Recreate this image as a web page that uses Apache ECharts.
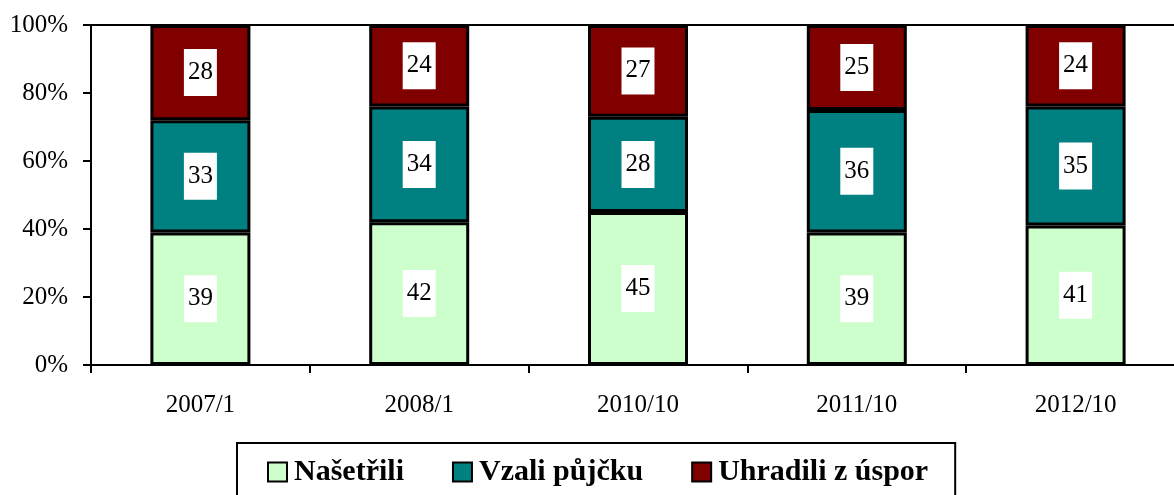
<!DOCTYPE html>
<html>
<head>
<meta charset="utf-8">
<script src="https://cdn.jsdelivr.net/npm/echarts@6/dist/echarts.min.js"></script>
<style>html,body{margin:0;padding:0;background:#fff;overflow:hidden;}#c{width:1174px;height:495px;}</style>
</head>
<body>
<div id="c"></div>
<script>
const categories = ['2007/1', '2008/1', '2010/10', '2011/10', '2012/10'];
const nasetrili = [39, 42, 45, 39, 41];
const vzaliPujcku = [33, 34, 28, 36, 35];
const uhradiliZUspor = [28, 24, 27, 25, 24];
const seriesNames = ['Našetřili', 'Vzali půjčku', 'Uhradili z úspor'];
const yTicks = [0, 20, 40, 60, 80, 100];

const FONT = '"Liberation Serif", "Times New Roman", serif';
const colors = ['#CCFFCC', '#008080', '#800000'];

function mkSeries(name, data, color) {
  return {
    name: name,
    type: 'bar',
    stack: 'total',
    data: data,
    barWidth: 100,
    itemStyle: { color: color, borderColor: '#000', borderWidth: 3 },
    label: {
      show: true,
      position: 'inside',
      color: '#000',
      fontFamily: FONT,
      fontSize: 25,
      backgroundColor: '#fff',
      padding: [11, 4, 11, 4],
      formatter: '{c}'
    },
    emphasis: { disabled: true }
  };
}

const chart = echarts.init(document.getElementById('c'), null, { renderer: 'canvas' });
chart.setOption({
  animation: false,
  backgroundColor: '#fff',
  grid: {
    left: 91, right: -11, top: 25, bottom: 130,
    outerBoundsMode: 'none',
    containLabel: false,
    show: true, borderColor: '#000', borderWidth: 2, backgroundColor: 'transparent'
  },
  legend: {
    data: seriesNames,
    left: 237,
    top: 443,
    orient: 'horizontal',
    icon: 'rect',
    itemWidth: 19,
    itemHeight: 19,
    itemGap: 48,
    padding: [14, 27, 40, 30],
    borderColor: '#000',
    borderWidth: 2,
    backgroundColor: '#fff',
    itemStyle: { borderColor: '#000', borderWidth: 2 },
    textStyle: { fontFamily: FONT, fontSize: 30, fontWeight: 'bold', color: '#000', padding: [0, 0, 0, 2] },
    selectedMode: false
  },
  xAxis: {
    type: 'category',
    data: categories,
    boundaryGap: true,
    axisLine: { show: true, lineStyle: { color: '#000', width: 2 } },
    axisTick: { show: true, alignWithLabel: false, length: 8, lineStyle: { color: '#000', width: 2 } },
    axisLabel: { color: '#000', fontFamily: FONT, fontSize: 25, margin: 28 },
    splitLine: { show: false }
  },
  yAxis: {
    type: 'value',
    min: yTicks[0],
    max: yTicks[yTicks.length - 1],
    interval: 20,
    axisLine: { show: true, lineStyle: { color: '#000', width: 2 } },
    axisTick: { show: true, inside: false, length: 8, lineStyle: { color: '#000', width: 2 } },
    axisLabel: { color: '#000', fontFamily: FONT, fontSize: 25, margin: 23, formatter: '{value}%' },
    splitLine: { show: false }
  },
  series: [
    mkSeries(seriesNames[0], nasetrili, colors[0]),
    mkSeries(seriesNames[1], vzaliPujcku, colors[1]),
    mkSeries(seriesNames[2], uhradiliZUspor, colors[2])
  ]
});
</script>
</body>
</html>
